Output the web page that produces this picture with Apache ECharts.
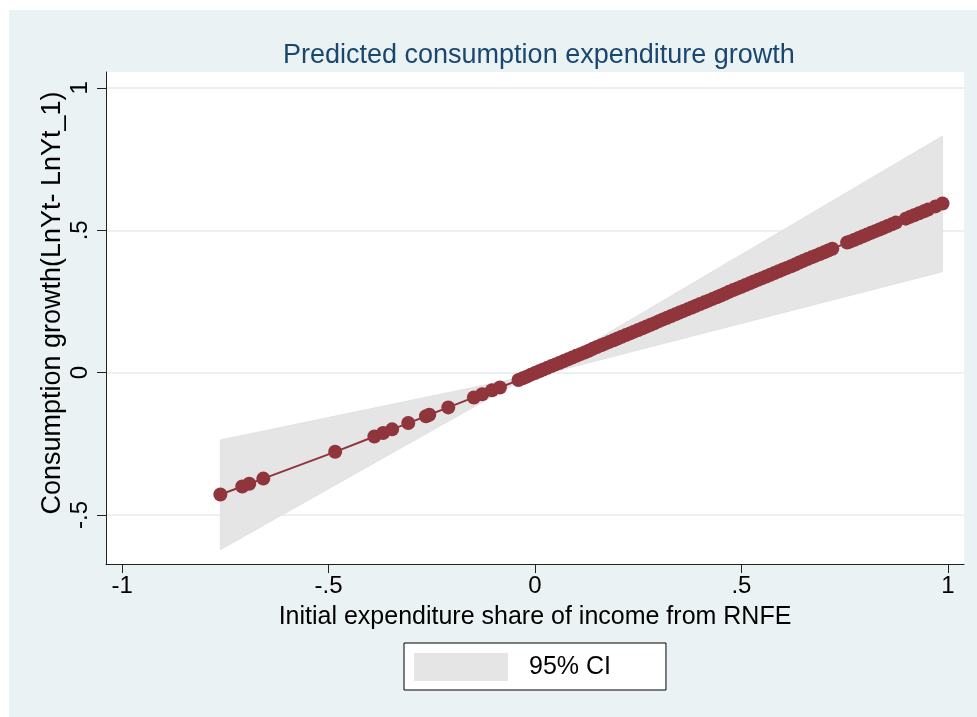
<!DOCTYPE html>
<html>
<head>
<meta charset="utf-8">
<script src="https://cdn.jsdelivr.net/npm/echarts@6/dist/echarts.min.js"></script>
<style>
  html, body { margin: 0; padding: 0; background: #ffffff; }
  #bg { position: absolute; left: 9px; top: 10px; width: 968px; height: 707px; background: #eaf2f3; }
  #chart { position: absolute; left: 0; top: 0; width: 977px; height: 717px; }
</style>
</head>
<body>
<div id="bg"></div>
<div id="chart"></div>
<script>
// ---- data ----
const titleText = 'Predicted consumption expenditure growth';
const xTitle = 'Initial expenditure share of income from RNFE';
const yTitle = 'Consumption growth(LnYt- LnYt_1)';
const legendLabel = '95% CI';

const xTickValues = [-1, -0.5, 0, 0.5, 1];
const xTickLabels = ['-1', '-.5', '0', '.5', '1'];
const yTickValues = [-0.5, 0, 0.5, 1];
const yTickLabels = ['-.5', '0', '.5', '1'];

// predicted values (x, fitted y)
const predX = [
  -0.762, -0.709, -0.692, -0.658, -0.484, -0.389, -0.368, -0.346, -0.307, -0.264, -0.256, -0.210,
  -0.148, -0.128, -0.104, -0.085,
  -0.04, -0.03, -0.02, -0.01, 0.00, 0.01, 0.02, 0.03, 0.04, 0.05, 0.06, 0.07, 0.08, 0.09,
  0.10, 0.11, 0.12, 0.13, 0.14, 0.15, 0.16, 0.17, 0.18, 0.19, 0.20, 0.21, 0.22, 0.23, 0.24,
  0.25, 0.26, 0.27, 0.28, 0.29, 0.30, 0.31, 0.32, 0.33, 0.34, 0.35, 0.36, 0.37, 0.38, 0.39,
  0.40, 0.41, 0.42, 0.43, 0.44, 0.45, 0.46, 0.47, 0.48, 0.49, 0.50, 0.51, 0.52, 0.53, 0.54,
  0.55, 0.56, 0.57, 0.58, 0.59, 0.60, 0.61, 0.62, 0.63, 0.64, 0.65, 0.66, 0.67, 0.68, 0.69,
  0.70, 0.71, 0.72,
  0.756, 0.764, 0.774, 0.784, 0.794, 0.804, 0.814, 0.824, 0.834, 0.844, 0.854, 0.864, 0.874,
  0.898, 0.908, 0.918, 0.930, 0.942, 0.952, 0.970, 0.987
];
const predY = [
  -0.428, -0.400, -0.390, -0.372, -0.278, -0.224, -0.212, -0.199, -0.177, -0.153, -0.148, -0.122,
  -0.087, -0.076, -0.062, -0.052,
  -0.026, -0.020, -0.014, -0.007, -0.001, 0.005, 0.011, 0.017, 0.023, 0.029, 0.035, 0.041, 0.047, 0.053,
  0.059, 0.065, 0.071, 0.077, 0.084, 0.090, 0.096, 0.102, 0.108, 0.114, 0.120, 0.126, 0.132, 0.138, 0.144,
  0.150, 0.156, 0.162, 0.168, 0.174, 0.181, 0.187, 0.193, 0.199, 0.205, 0.211, 0.217, 0.223, 0.229, 0.235,
  0.241, 0.247, 0.253, 0.259, 0.265, 0.271, 0.277, 0.284, 0.290, 0.296, 0.302, 0.308, 0.314, 0.320, 0.326,
  0.332, 0.338, 0.344, 0.350, 0.356, 0.362, 0.368, 0.374, 0.380, 0.387, 0.393, 0.399, 0.405, 0.411, 0.417,
  0.423, 0.429, 0.435,
  0.457, 0.461, 0.467, 0.473, 0.479, 0.485, 0.491, 0.497, 0.503, 0.509, 0.515, 0.521, 0.527,
  0.541, 0.547, 0.553, 0.560, 0.567, 0.573, 0.584, 0.594
];

// 95% confidence band vertices
const ciX = [-0.762, -0.024, 0.007, 0.987];
const ciUpper = [-0.2365, -0.014, -0.006, 0.831];
const ciLower = [-0.6217, -0.019, -0.011, 0.3548];

// ---- chart ----
const chart = echarts.init(document.getElementById('chart'), null, { renderer: 'canvas' });
const FONT = 'Liberation Sans, Arial, Helvetica, sans-serif';

const predData = predX.map((x, i) => [x, predY[i]]);
const ciData = ciX.map((x, i) => [x, ciUpper[i], ciLower[i]]);

function labelFor(values, labels) {
  return function (v) {
    for (let i = 0; i < values.length; i++) {
      if (Math.abs(values[i] - v) < 1e-9) return labels[i];
    }
    return '';
  };
}

const option = {
  backgroundColor: 'transparent',
  animation: false,
  title: {
    text: titleText,
    left: 278,
    top: 37,
    textStyle: { color: '#1a476f', fontSize: 27, fontWeight: 'normal', fontFamily: FONT }
  },
  legend: {
    left: 404,
    top: 643,
    padding: [10, 55, 9, 10],
    backgroundColor: '#ffffff',
    borderColor: '#000000',
    borderWidth: 1,
    borderRadius: 0,
    itemWidth: 94,
    itemHeight: 28,
    selectedMode: false,
    textStyle: { color: '#000', fontSize: 25, fontFamily: FONT, padding: [0, 0, 0, 16] },
    data: [{ name: legendLabel, icon: 'rect', itemStyle: { color: '#e5e5e5' } }]
  },
  grid: {
    left: 106, top: 72, right: 13, bottom: 153,
    show: true, backgroundColor: '#ffffff', borderWidth: 0,
    containLabel: false
  },
  xAxis: {
    type: 'value',
    min: -1.039, max: 1.039,
    name: xTitle,
    nameLocation: 'middle',
    nameGap: 41,
    nameMoveOverlap: false,
    nameTextStyle: { color: '#000', fontSize: 25, fontFamily: FONT },
    axisLine: { show: true, onZero: false, lineStyle: { color: '#222', width: 1 } },
    axisTick: { show: true, length: 9, inside: false, customValues: xTickValues, lineStyle: { color: '#222', width: 1 } },
    axisLabel: {
      show: true, customValues: xTickValues, margin: 10,
      color: '#000', fontSize: 24, fontFamily: FONT,
      formatter: labelFor(xTickValues, xTickLabels)
    },
    splitLine: { show: false }
  },
  yAxis: {
    type: 'value',
    min: -0.672, max: 1.056,
    name: yTitle,
    nameLocation: 'middle',
    nameRotate: 90,
    nameGap: 40,
    nameMoveOverlap: false,
    nameTextStyle: { color: '#000', fontSize: 27, fontFamily: FONT, padding: [0, 0, 0, 30] },
    axisLine: { show: true, onZero: false, lineStyle: { color: '#222', width: 1 } },
    axisTick: { show: true, length: 9, inside: false, customValues: yTickValues, lineStyle: { color: '#222', width: 1 } },
    axisLabel: {
      show: true, customValues: yTickValues, rotate: 90, margin: 14,
      color: '#000', fontSize: 24, fontFamily: FONT,
      formatter: labelFor(yTickValues, yTickLabels)
    },
    splitLine: { show: true, lineStyle: { color: '#e4edef', width: 1.5 } }
  },
  series: [
    {
      name: legendLabel,
      type: 'custom',
      itemStyle: { color: '#e5e5e5' },
      encode: { x: 0, y: [1, 2] },
      data: ciData,
      z: 1,
      renderItem: function (params, api) {
        if (params.dataIndex !== 0) return null;
        const pts = [];
        for (let i = 0; i < ciData.length; i++) pts.push(api.coord([ciData[i][0], ciData[i][1]]));
        for (let i = ciData.length - 1; i >= 0; i--) pts.push(api.coord([ciData[i][0], ciData[i][2]]));
        return {
          type: 'polygon',
          shape: { points: pts },
          style: { fill: '#e5e5e5', stroke: '#e2e2e2', lineWidth: 1 }
        };
      }
    },
    {
      name: 'Predicted',
      type: 'line',
      data: predData,
      showSymbol: true,
      showAllSymbol: true,
      symbol: 'circle',
      symbolSize: 14,
      z: 3,
      itemStyle: { color: '#90353b' },
      lineStyle: { color: '#90353b', width: 2 },
      emphasis: { disabled: true }
    }
  ]
};

chart.setOption(option);
</script>
</body>
</html>
